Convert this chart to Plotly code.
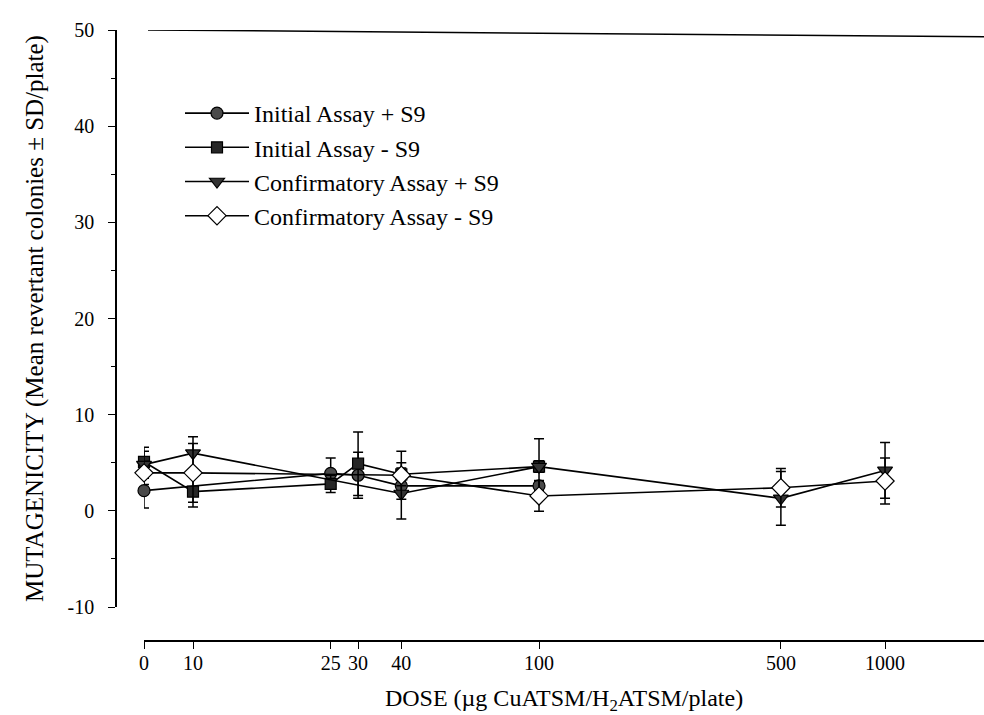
import numpy as np
import plotly.graph_objects as go

# ---- data ----
TICK_DOSES = [0, 10, 25, 30, 40, 100, 500, 1000]
TICK_LABELS = ["0", "10", "25", "30", "40", "100", "500", "1000"]

INIT_P_DOSE = [0, 25, 30, 40, 100]
INIT_P_MEAN = [2.1, 3.9, 3.7, 2.6, 2.6]
INIT_P_SD = [1.8, 1.6, 2.4, 0.6, 0.5]

INIT_M_DOSE = [0, 10, 25, 30, 40, 100]
INIT_M_MEAN = [5.1, 2.0, 2.8, 4.9, 3.8, 4.6]
INIT_M_SD = [1.5, 1.6, 0.9, 3.3, 1.2, 0.6]

CONF_P_DOSE = [0, 10, 40, 100, 500, 1000]
CONF_P_MEAN = [4.8, 6.0, 1.8, 4.6, 1.3, 4.2]
CONF_P_SD = [1.4, 1.7, 2.65, 2.9, 2.8, 2.9]

CONF_M_DOSE = [0, 10, 40, 100, 500, 1000]
CONF_M_MEAN = [3.95, 3.95, 3.7, 1.55, 2.4, 3.1]
CONF_M_SD = [1.2, 3.05, 2.5, 1.6, 2.0, 2.4]

SERIES_NAMES = ["Initial Assay + S9", "Initial Assay - S9",
                "Confirmatory Assay + S9", "Confirmatory Assay - S9"]

# log dose axis with a broken origin: dose 0 sits at the axis start
X_MIN_LOG = 0.8584
X_MAX_LOG = 3.286
ZERO_AT = 10 ** X_MIN_LOG


def plot_x(doses):
    return [d if d > 0 else ZERO_AT for d in doses]


W, H = 984, 715
FONT = "Liberation Serif, Times New Roman, serif"

styles = [
    dict(symbol="circle", size=12, color="#4a4a4a"),
    dict(symbol="square", size=11, color="#262626"),
    dict(symbol="triangle-down", size=13, color="#333333"),
    dict(symbol="diamond", size=14, color="#ffffff"),
]
data = [
    (INIT_P_DOSE, INIT_P_MEAN, INIT_P_SD),
    (INIT_M_DOSE, INIT_M_MEAN, INIT_M_SD),
    (CONF_P_DOSE, CONF_P_MEAN, CONF_P_SD),
    (CONF_M_DOSE, CONF_M_MEAN, CONF_M_SD),
]

fig = go.Figure()
for name, (d, m, s), st in zip(SERIES_NAMES, data, styles):
    fig.add_trace(go.Scatter(
        x=plot_x(d), y=m, name=name, mode="lines+markers",
        line=dict(color="black", width=1.6),
        marker=dict(symbol=st["symbol"], size=st["size"], color=st["color"],
                    line=dict(color="black", width=1.2)),
        error_y=dict(type="data", array=s, visible=True, color="black",
                     thickness=1.5, width=5),
        cliponaxis=False,
    ))

fig.update_layout(
    width=W, height=H, autosize=False,
    margin=dict(l=0, r=0, t=0, b=0),
    paper_bgcolor="white", plot_bgcolor="white",
    font=dict(family=FONT, color="black", size=20),
    showlegend=True,
    legend=dict(x=180 / W, y=1 - 91 / H, xanchor="left", yanchor="top",
                bgcolor="rgba(0,0,0,0)", borderwidth=0,
                font=dict(family=FONT, size=24, color="black"),
                itemwidth=64, tracegroupgap=0),
    xaxis=dict(
        type="log", range=[X_MIN_LOG, X_MAX_LOG],
        domain=[144 / W, 1], anchor="free", position=1 - 641 / H,
        showgrid=False, zeroline=False, showline=True,
        linecolor="black", linewidth=1.6,
        ticks="outside", ticklen=7, tickwidth=1.2, tickcolor="black",
        tickvals=plot_x(TICK_DOSES), ticktext=TICK_LABELS,
        tickfont=dict(family=FONT, size=20),
        ticklabelstandoff=-3,
        title=dict(text="DOSE (µg CuATSM/H<sub>2</sub>ATSM/plate)",
                   font=dict(family=FONT, size=24), standoff=26),
        automargin=False,
    ),
    yaxis=dict(
        range=[-10, 50], domain=[1 - 607 / H, 1 - 30 / H],
        anchor="free", position=116 / W,
        showgrid=False, zeroline=False, showline=True,
        linecolor="black", linewidth=1.5,
        ticks="outside", ticklen=7, tickwidth=1.2, tickcolor="black",
        tickvals=[-10, 0, 10, 20, 30, 40, 50],
        ticktext=["-10", "0", "10", "20", "30", "40", "50"],
        tickfont=dict(family=FONT, size=20),
        minor=dict(dtick=5, ticks="outside", ticklen=4, tickcolor="black",
                   tickwidth=1),
        ticklabelstandoff=10,
        title=dict(text="MUTAGENICITY (Mean revertant colonies ± SD/plate)",
                   font=dict(family=FONT, size=25), standoff=16),
        automargin=False,
    ),
    shapes=[dict(type="line", xref="paper", yref="y",
                 x0=148 / W, x1=1, y0=50, y1=49.3,
                 line=dict(color="black", width=1.5))],
)

fig.write_html("out.html")
